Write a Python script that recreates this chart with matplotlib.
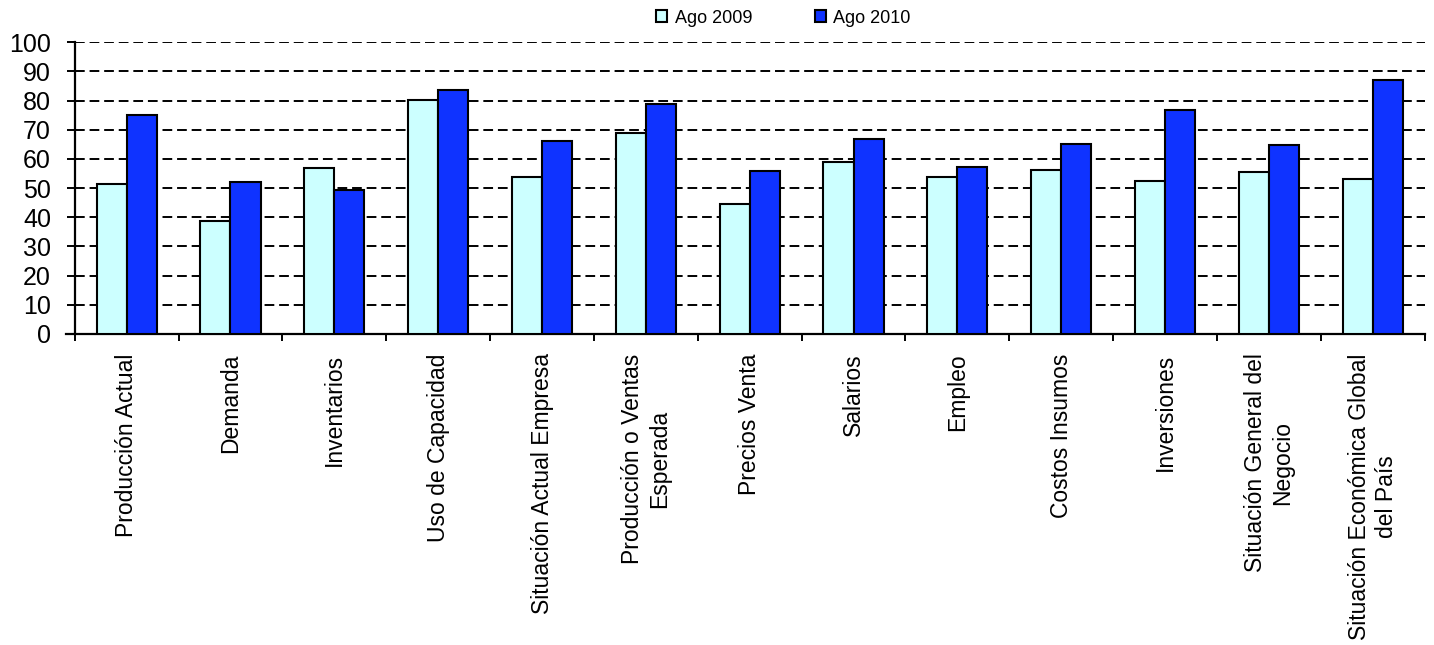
import numpy as np
import matplotlib
matplotlib.use('Agg')
import matplotlib.pyplot as plt
from matplotlib.ticker import FixedLocator

plt.rcParams['font.family'] = ['Liberation Sans', 'DejaVu Sans']

categorias = [
    'Producción Actual', 'Demanda', 'Inventarios', 'Uso de Capacidad',
    'Situación Actual Empresa', 'Producción o Ventas\nEsperada', 'Precios Venta',
    'Salarios', 'Empleo', 'Costos Insumos', 'Inversiones',
    'Situación General del\nNegocio', 'Situación Económica Global\ndel País',
]
ago_2009 = [51.4, 38.9, 56.8, 80.1, 53.8, 68.8, 44.5, 58.8, 53.7, 56.2, 52.4, 55.4, 53.2]
ago_2010 = [75.1, 52.1, 49.4, 83.5, 66.2, 78.8, 55.9, 67.0, 57.4, 65.1, 76.7, 64.9, 87.0]
series = ['Ago 2009', 'Ago 2010']
colores = ['#CCFFFF', '#0F33FF']

fig = plt.figure(figsize=(14.34, 6.45), dpi=100)
ax = fig.add_axes([0.0521, 0.4822, 0.9414, 0.4522])

x = np.arange(len(categorias))
w = 0.29
for i, (vals, lab) in enumerate(zip([ago_2009, ago_2010], series)):
    ax.bar(x + (i - 0.5) * w, vals, width=w, color=colores[i], edgecolor='black',
           linewidth=1.5, label=lab, zorder=3)

ax.set_xlim(-0.5, len(categorias) - 0.5)
ax.set_ylim(0, 100)
ax.set_yticks(np.arange(0, 101, 10))
ax.tick_params(axis='y', labelsize=18, length=6, width=1.4, direction='out', pad=11)
for yv in range(10, 101, 10):
    ax.axhline(yv, color='black', linewidth=1.4, linestyle=(0, (5, 2.5)), zorder=1)

ax.set_xticks(x)
ax.set_xticklabels(categorias, rotation=90, fontsize=16.5, ha='center', va='top',
                   multialignment='center')
ax.tick_params(axis='x', length=0, pad=14)
ax.xaxis.set_minor_locator(FixedLocator(np.arange(-0.5, len(categorias), 1.0)))
ax.tick_params(axis='x', which='minor', length=5, width=1.4, direction='out')

for s in ['top', 'right']:
    ax.spines[s].set_visible(False)
ax.spines['left'].set_linewidth(1.6)
ax.spines['bottom'].set_linewidth(1.6)
ax.spines['bottom'].set_bounds(-0.58, len(categorias) - 0.5)

fig.legend(loc='center', bbox_to_anchor=(0.5464, 0.972), ncol=2, frameon=False,
           fontsize=13, handlelength=0.6, handleheight=0.6, handletextpad=0.4,
           columnspacing=3.5)

fig.savefig('out.png', dpi=100)
